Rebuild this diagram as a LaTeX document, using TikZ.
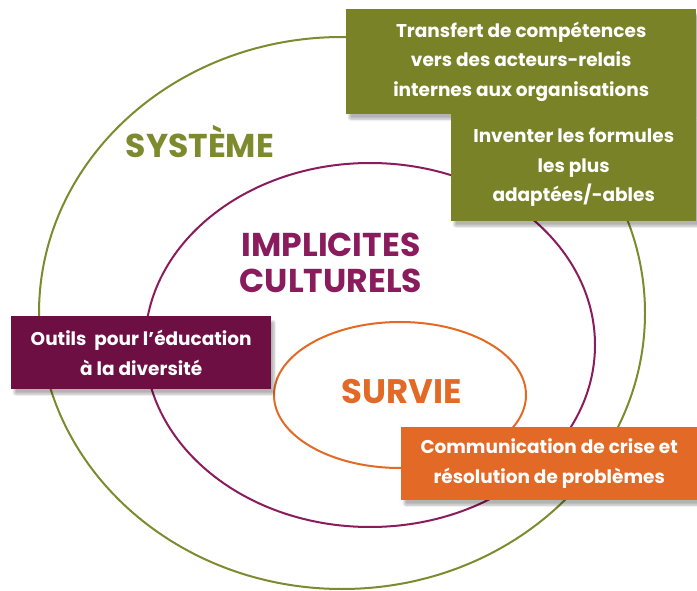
\documentclass[tikz,border=0pt]{standalone}
\usepackage{fontspec}
\setmainfont{Poppins}
\usetikzlibrary{shadows.blur}

\definecolor{olivegreen}{HTML}{7A8228}
\definecolor{oliveline}{HTML}{7D8A2E}
\definecolor{plum}{HTML}{6D0F43}
\definecolor{plumline}{HTML}{8A1B5C}
\definecolor{rust}{HTML}{E36A26}

\begin{document}
\begin{tikzpicture}
  [x=1pt,y=-1pt,
   ring/.style={line width=2pt},
   box/.style={rectangle,anchor=north west,inner sep=0pt,text=white,align=center,
     font=\fontsize{18.5}{29.5}\selectfont\bfseries,
     blur shadow={shadow xshift=3pt,shadow yshift=-5pt,shadow blur steps=8,
       shadow blur extra rounding=2pt,shadow opacity=30}},
   title/.style={font=\fontsize{#1}{36}\selectfont\bfseries,align=center,inner sep=0pt}]
  \useasboundingbox (0,0) rectangle (697,591);

  % the three rings
  \draw[ring,oliveline] (342,313) ellipse [x radius=303, y radius=276];
  \draw[ring,plumline]  (370,345) ellipse [x radius=225, y radius=182];
  \draw[ring,rust]      (400,395) ellipse [x radius=126, y radius=73];

  % ring titles (base = last line)
  \node[title=33,text=oliveline,anchor=base] (systeme) at (200,158) {SYSTÈME};
  \node[title=33,text=plumline,anchor=base] (implicites) at (331,293) {IMPLICITES\\CULTURELS};
  \node[title=34,text=rust,anchor=base] (survie) at (402,403) {SURVIE};

  % boxes
  \node[box,fill=olivegreen,minimum width=350,minimum height=105] (transfert) at (346,9)
    {Transfert de compétences\\vers des acteurs-relais\\internes aux organisations};
  \node[box,fill=olivegreen,minimum width=245,minimum height=107] (formules) at (451,114)
    {Inventer les formules\\les plus\\adaptées/-ables};
  \node[box,fill=plum,minimum width=260,minimum height=73] (outils) at (11,316)
    {Outils~ pour l’éducation\\à la diversité};
  \node[box,fill=rust,minimum width=296,minimum height=73] (crise) at (401,427)
    {Communication de crise et\\résolution de problèmes};
\end{tikzpicture}
\end{document}
